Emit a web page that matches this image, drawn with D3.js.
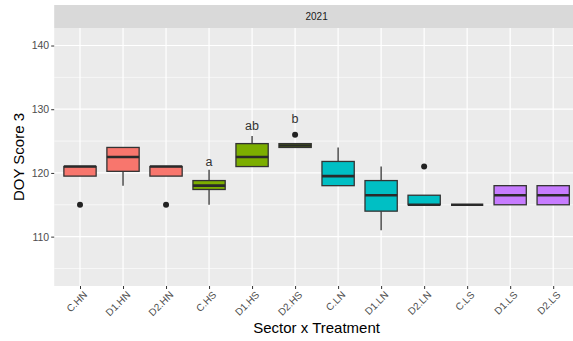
<!DOCTYPE html>
<html>
<head>
<meta charset="utf-8">
<script src="https://cdn.jsdelivr.net/npm/d3@7"></script>
<style>
  html, body { margin: 0; padding: 0; background: #ffffff; }
  svg { display: block; }
</style>
</head>
<body>
<svg id="chart" width="573" height="341"></svg>
<script>
// Treatments on the x axis, grouped by sector
const categories = ["C.HN", "D1.HN", "D2.HN", "C.HS", "D1.HS", "D2.HS",
                    "C.LN", "D1.LN", "D2.LN", "C.LS", "D1.LS", "D2.LS"];
const sectors = ["HN", "HN", "HN", "HS", "HS", "HS", "LN", "LN", "LN", "LS", "LS", "LS"];

// Box statistics for DOY Score 3 (2021)
const whiskerLow  = [119.5, 118,   119.5, 115,   121,   124,   118,   111,   115,   115, 115,   115];
const q1          = [119.5, 120.25,119.5, 117.4, 121,   124,   118,   114,   115,   115, 115,   115];
const median      = [121,   122.5, 121,   118,   122.5, 124.3, 119.5, 116.5, 115,   115, 116.5, 116.5];
const q3          = [121,   124,   121,   118.8, 124.6, 124.6, 121.8, 118.8, 116.5, 115, 118,   118];
const whiskerHigh = [121,   124,   121,   120.5, 125.8, 124.6, 124,   121,   116.5, 115, 118,   118];
const outliers    = [[115], [],    [115], [],    [],    [126], [],    [],    [121], [],  [],    []];

// Significance letters
const letterCats  = ["C.HS", "D1.HS", "D2.HS"];
const letterText  = ["a", "ab", "b"];
const letterY     = [121.85, 127.35, 128.55];

const yTicks = [110, 120, 130, 140];
const yMinor = [105, 115, 125, 135];
const facetLabel = "2021";

const sectorColors = { HN: "#F8766D", HS: "#7CAE00", LN: "#00BFC4", LS: "#C77CFF" };

const svg = d3.select("#chart");
const panel = { left: 54.2, right: 579, top: 28, bottom: 286 };
const strip = { top: 5, bottom: 28 };

const x = d3.scalePoint().domain(categories).range([panel.left, panel.right]).padding(0.6);
const step = x.step();
const y = d3.scaleLinear().domain([102.25, 142.75]).range([panel.bottom, panel.top]);

// Strip
svg.append("rect")
  .attr("x", panel.left).attr("y", strip.top)
  .attr("width", panel.right - panel.left).attr("height", strip.bottom - strip.top)
  .attr("fill", "#D9D9D9");
svg.append("text")
  .attr("x", (panel.left + panel.right) / 2).attr("y", (strip.top + strip.bottom) / 2)
  .attr("dy", "0.35em").attr("text-anchor", "middle")
  .attr("font-family", "Liberation Sans, Arial, sans-serif").attr("font-size", 10)
  .attr("fill", "#1A1A1A").text(facetLabel);

// Panel background
svg.append("rect")
  .attr("x", panel.left).attr("y", panel.top)
  .attr("width", panel.right - panel.left).attr("height", panel.bottom - panel.top)
  .attr("fill", "#EBEBEB");

const grid = svg.append("g");
grid.selectAll("line.minor").data(yMinor.filter(v => y(v) < panel.bottom)).join("line")
  .attr("x1", panel.left).attr("x2", panel.right)
  .attr("y1", d => y(d)).attr("y2", d => y(d))
  .attr("stroke", "#fff").attr("stroke-width", 0.6);
grid.selectAll("line.major").data(yTicks).join("line")
  .attr("x1", panel.left).attr("x2", panel.right)
  .attr("y1", d => y(d)).attr("y2", d => y(d))
  .attr("stroke", "#fff").attr("stroke-width", 1.2);
grid.selectAll("line.vx").data(categories).join("line")
  .attr("x1", d => x(d)).attr("x2", d => x(d))
  .attr("y1", panel.top).attr("y2", panel.bottom)
  .attr("stroke", "#fff").attr("stroke-width", 1.2);

// Axes
const axisFont = "Liberation Sans, Arial, sans-serif";
const yAxis = svg.append("g").attr("transform", `translate(${panel.left},0)`)
  .call(d3.axisLeft(y).tickValues(yTicks).tickSize(3).tickPadding(2));
yAxis.select(".domain").remove();
yAxis.selectAll(".tick line").attr("stroke", "#333").attr("stroke-width", 1);
yAxis.selectAll(".tick text").attr("font-family", axisFont).attr("font-size", 10.5).attr("fill", "#4D4D4D");

const xAxis = svg.append("g").attr("transform", `translate(0,${panel.bottom})`)
  .call(d3.axisBottom(x).tickSize(3).tickPadding(3));
xAxis.select(".domain").remove();
xAxis.selectAll(".tick line").attr("stroke", "#333").attr("stroke-width", 1);
xAxis.selectAll(".tick text")
  .attr("font-family", axisFont).attr("font-size", 10).attr("fill", "#4D4D4D")
  .attr("text-anchor", "end").attr("dy", "0.35em")
  .attr("transform", "translate(5,7) rotate(-45)").attr("y", 0).attr("x", 0);

// Boxplots
const boxW = step * 0.75;
const rows = categories.map((c, i) => ({
  cat: c, sector: sectors[i], lo: whiskerLow[i], q1: q1[i], med: median[i],
  q3: q3[i], hi: whiskerHigh[i], out: outliers[i]
}));
const boxes = svg.append("g").selectAll("g").data(rows).join("g");
boxes.append("line")
  .attr("x1", d => x(d.cat)).attr("x2", d => x(d.cat))
  .attr("y1", d => y(d.hi)).attr("y2", d => y(d.q3))
  .attr("stroke", "#333").attr("stroke-width", 1.3);
boxes.append("line")
  .attr("x1", d => x(d.cat)).attr("x2", d => x(d.cat))
  .attr("y1", d => y(d.q1)).attr("y2", d => y(d.lo))
  .attr("stroke", "#333").attr("stroke-width", 1.3);
boxes.append("rect")
  .attr("x", d => x(d.cat) - boxW / 2).attr("width", boxW)
  .attr("y", d => y(d.q3)).attr("height", d => Math.max(0, y(d.q1) - y(d.q3)))
  .attr("fill", d => sectorColors[d.sector])
  .attr("stroke", "#333").attr("stroke-width", 1.3);
boxes.append("line")
  .attr("x1", d => x(d.cat) - boxW / 2).attr("x2", d => x(d.cat) + boxW / 2)
  .attr("y1", d => y(d.med)).attr("y2", d => y(d.med))
  .attr("stroke", "#2a2a2a").attr("stroke-width", 2.6);
boxes.selectAll("circle").data(d => d.out.map(v => ({ cat: d.cat, v }))).join("circle")
  .attr("cx", d => x(d.cat)).attr("cy", d => y(d.v)).attr("r", 3)
  .attr("fill", "#222");

// Letters
svg.append("g").selectAll("text").data(letterCats).join("text")
  .attr("x", d => x(d)).attr("y", (d, i) => y(letterY[i]))
  .attr("dy", "0.35em").attr("text-anchor", "middle")
  .attr("font-family", axisFont).attr("font-size", 12.5).attr("fill", "#333")
  .text((d, i) => letterText[i]);

// Axis titles
svg.append("text")
  .attr("x", (panel.left + panel.right) / 2).attr("y", 333)
  .attr("text-anchor", "middle").attr("font-family", axisFont)
  .attr("font-size", 15).attr("fill", "#000").text("Sector x Treatment");
svg.append("text")
  .attr("transform", `translate(24,${(panel.top + panel.bottom) / 2}) rotate(-90)`)
  .attr("text-anchor", "middle").attr("font-family", axisFont)
  .attr("font-size", 15).attr("fill", "#000").text("DOY Score 3");
</script>
</body>
</html>
